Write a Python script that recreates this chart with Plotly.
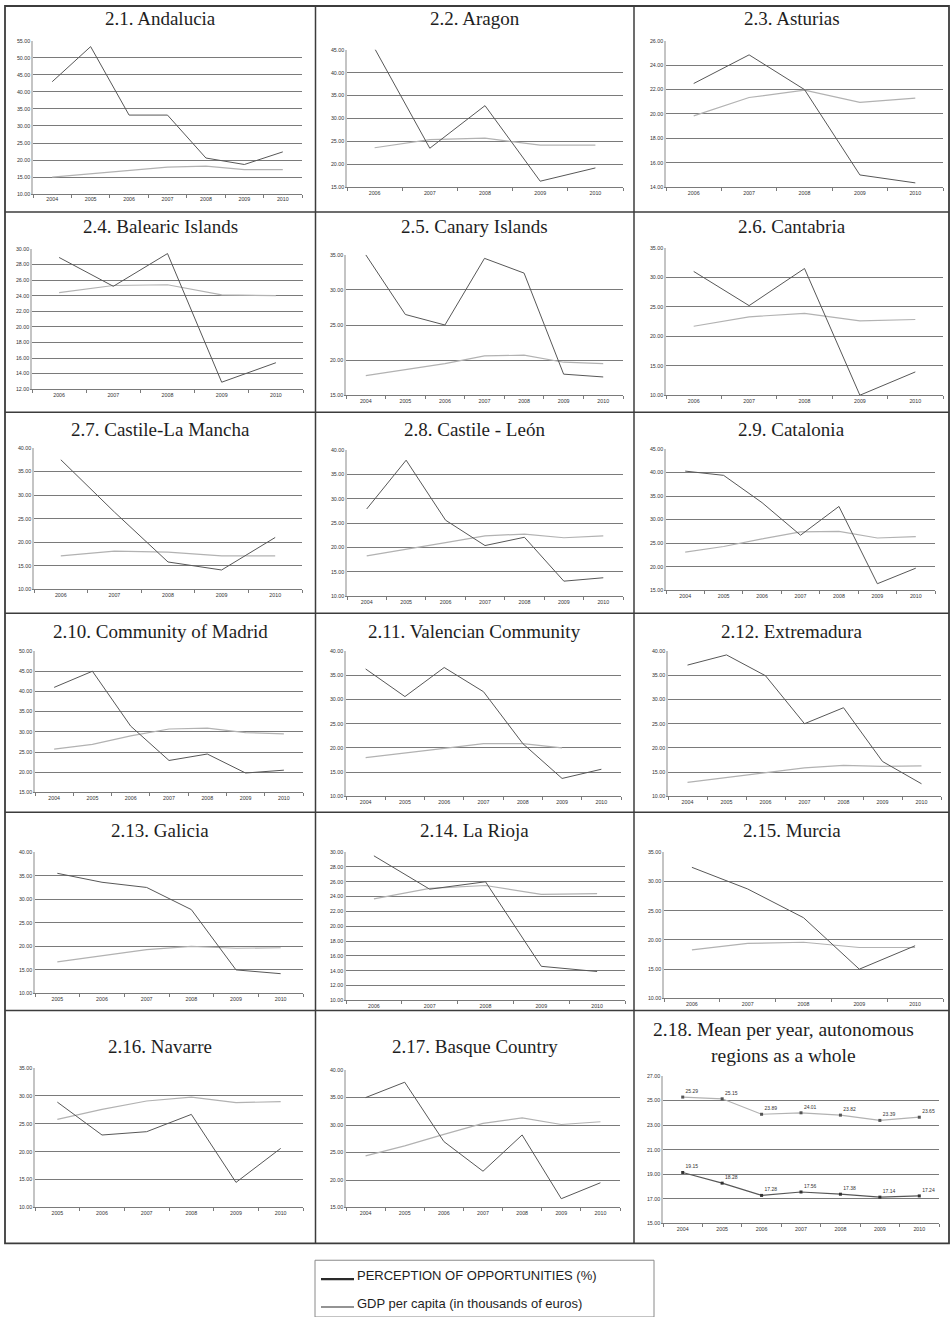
import plotly.graph_objects as go

W, H = 951, 1317

# ---------------- data ----------------
years_04 = ["2004", "2005", "2006", "2007", "2008", "2009", "2010"]
years_05 = ["2005", "2006", "2007", "2008", "2009", "2010"]
years_06 = ["2006", "2007", "2008", "2009", "2010"]

andalucia_perception = [43.0, 53.3, 33.2, 33.2, 20.6, 18.7, 22.4]
andalucia_gdp = [15.0, 16.0, 16.9, 17.9, 18.2, 17.2, 17.2]

aragon_perception = [45.3, 23.5, 32.8, 16.3, 19.2]
aragon_gdp = [23.6, 25.4, 25.7, 24.2, 24.2]

asturias_perception = [22.5, 24.85, 22.0, 15.0, 14.35]
asturias_gdp = [19.85, 21.35, 21.95, 20.95, 21.3]

balearic_perception = [28.9, 25.2, 29.4, 12.9, 15.4]
balearic_gdp = [24.4, 25.3, 25.4, 24.1, 24.0]

canary_perception = [35.0, 26.5, 25.0, 34.5, 32.4, 18.0, 17.6]
canary_gdp = [17.8, 18.7, 19.5, 20.6, 20.7, 19.7, 19.5]

cantabria_perception = [31.0, 25.2, 31.5, 10.0, 13.95]
cantabria_gdp = [21.7, 23.3, 23.9, 22.6, 22.85]

clm_perception = [37.5, 26.4, 15.8, 14.1, 21.0]
clm_gdp = [17.1, 18.1, 17.9, 17.1, 17.1]

cyl_perception = [27.9, 37.9, 25.6, 20.4, 22.1, 13.1, 13.8]
cyl_gdp = [18.3, 19.6, 21.0, 22.4, 22.75, 22.0, 22.4]

catalonia_perception = [40.3, 39.4, 33.6, 26.7, 32.8, 16.4, 19.7]
catalonia_gdp = [23.1, 24.3, 25.9, 27.4, 27.5, 26.1, 26.4]

madrid_perception = [41.0, 45.0, 31.4, 22.9, 24.5, 19.8, 20.5]
madrid_gdp = [25.7, 26.9, 29.0, 30.7, 30.9, 29.8, 29.5]

valencia_perception = [36.3, 30.6, 36.6, 31.6, 20.9, 13.7, 15.6]
valencia_gdp = [18.0, 18.9, 19.9, 20.9, 20.9, 20.0, None]

extremadura_perception = [37.1, 39.2, 34.9, 25.0, 28.3, 17.2, 12.6]
extremadura_gdp = [12.9, 13.9, 14.8, 15.9, 16.4, 16.2, 16.3]

galicia_perception = [35.5, 33.6, 32.5, 27.8, 15.0, 14.2]
galicia_gdp = [16.7, 18.0, 19.3, 20.0, 19.6, 19.7]

rioja_perception = [29.5, 25.0, 26.0, 14.6, 13.9]
rioja_gdp = [23.7, 25.1, 25.5, 24.3, 24.4]

murcia_perception = [32.4, 28.7, 23.8, 15.0, 19.0]
murcia_gdp = [18.3, 19.4, 19.6, 18.7, 18.7]

navarre_perception = [28.9, 23.0, 23.6, 26.7, 14.5, 20.6]
navarre_gdp = [25.8, 27.6, 29.1, 29.8, 28.8, 29.0]

basque_perception = [35.0, 37.8, 27.0, 21.6, 28.2, 16.6, 19.5]
basque_gdp = [24.4, 26.2, 28.3, 30.3, 31.3, 30.1, 30.6]

mean_upper = [25.29, 25.15, 23.89, 24.01, 23.82, 23.39, 23.65]
mean_lower = [19.15, 18.28, 17.28, 17.56, 17.38, 17.14, 17.24]

titles = ["2.1. Andalucia", "2.2. Aragon", "2.3. Asturias",
          "2.4. Balearic Islands", "2.5. Canary Islands", "2.6. Cantabria",
          "2.7. Castile-La Mancha", "2.8. Castile - León", "2.9. Catalonia",
          "2.10. Community of Madrid", "2.11. Valencian Community", "2.12. Extremadura",
          "2.13. Galicia", "2.14. La Rioja", "2.15. Murcia",
          "2.16. Navarre", "2.17. Basque Country"]
mean_title_lines = ["2.18. Mean per year, autonomous", "regions as a whole"]

legend_labels = ["PERCEPTION OF OPPORTUNITIES (%)", "GDP per capita (in thousands of euros)"]

# ---------------- panel configuration ----------------
series = [
    (years_04, andalucia_perception, andalucia_gdp),
    (years_06, aragon_perception, aragon_gdp),
    (years_06, asturias_perception, asturias_gdp),
    (years_06, balearic_perception, balearic_gdp),
    (years_04, canary_perception, canary_gdp),
    (years_06, cantabria_perception, cantabria_gdp),
    (years_06, clm_perception, clm_gdp),
    (years_04, cyl_perception, cyl_gdp),
    (years_04, catalonia_perception, catalonia_gdp),
    (years_04, madrid_perception, madrid_gdp),
    (years_04, valencia_perception, valencia_gdp),
    (years_04, extremadura_perception, extremadura_gdp),
    (years_05, galicia_perception, galicia_gdp),
    (years_06, rioja_perception, rioja_gdp),
    (years_06, murcia_perception, murcia_gdp),
    (years_05, navarre_perception, navarre_gdp),
    (years_04, basque_perception, basque_gdp),
    (years_04, mean_lower, mean_upper),
]

yranges = [(10, 55, 5), (15, 45, 5), (14, 26, 2),
           (12, 30, 2), (15, 35, 5), (10, 35, 5),
           (10, 40, 5), (10, 40, 5), (15, 45, 5),
           (15, 50, 5), (10, 40, 5), (10, 40, 5),
           (10, 40, 5), (10, 30, 2), (10, 35, 5),
           (10, 35, 5), (15, 40, 5), (15, 27, 2)]

# plot boxes in pixels: x0, x1, y0(top), y1(bottom)
boxes = [(33, 302, 38, 192), (347, 623, 47, 185), (666, 943, 38, 185),
         (32, 303, 247, 388), (346, 623, 253, 394), (666, 943, 246, 394),
         (34, 302, 447, 589), (347, 623, 449, 596), (666, 935, 448, 590),
         (35, 303, 651, 793), (346, 621, 651, 797), (668, 941, 651, 797),
         (35, 303, 853, 995), (346, 625, 853, 1002), (664, 943, 853, 1000),
         (35, 303, 1070, 1210), (346, 620, 1072, 1210), (663, 939, 1078, 1226)]

col_edges = [5, 315.5, 634, 949]
row_edges = [3, 210, 411, 613, 813, 1012, 1246]
title_y = [16, 225, 428, 631, 831, 1048]

PERC_COLOR = "#575757"
GDP_COLOR = "#b2b2b2"
GRID_COLOR = "#7a7a7a"
TICK_FONT = dict(family="Liberation Sans, Arial", size=5.3, color="#333333")

fig = go.Figure()
layout_axes = {}

for i, ((yrs, perc, gdp), (ymin, ymax, dt), (x0, x1, y0, y1)) in enumerate(zip(series, yranges, boxes), start=1):
    xa = "x" if i == 1 else f"x{i}"
    ya = "y" if i == 1 else f"y{i}"
    is_mean = (i == 18)
    if is_mean:
        fig.add_trace(go.Scatter(
            x=yrs, y=gdp, xaxis=xa, yaxis=ya, mode="lines+markers+text",
            line=dict(color=GDP_COLOR, width=1.2),
            marker=dict(symbol="square", size=3, color="#555555"),
            text=[f"{v:.2f}" for v in gdp], textposition="top right",
            textfont=dict(family="Liberation Sans, Arial", size=5, color="#333333"),
            showlegend=False, cliponaxis=False))
        fig.add_trace(go.Scatter(
            x=yrs, y=perc, xaxis=xa, yaxis=ya, mode="lines+markers+text",
            line=dict(color=PERC_COLOR, width=1.2),
            marker=dict(symbol="square", size=3, color="#333333"),
            text=[f"{v:.2f}" for v in perc], textposition="top right",
            textfont=dict(family="Liberation Sans, Arial", size=5, color="#333333"),
            showlegend=False, cliponaxis=False))
    else:
        fig.add_trace(go.Scatter(
            x=yrs, y=gdp, xaxis=xa, yaxis=ya, mode="lines",
            line=dict(color=GDP_COLOR, width=1.2), showlegend=False,
            connectgaps=False))
        fig.add_trace(go.Scatter(
            x=yrs, y=perc, xaxis=xa, yaxis=ya, mode="lines",
            line=dict(color=PERC_COLOR, width=1.0), showlegend=False))

    xkey = "xaxis" if i == 1 else f"xaxis{i}"
    ykey = "yaxis" if i == 1 else f"yaxis{i}"
    layout_axes[xkey] = dict(
        domain=[x0 / W, x1 / W], anchor=ya, type="category",
        categoryorder="array", categoryarray=yrs,
        range=[-0.5, len(yrs) - 0.5], autorange=False,
        tickson="boundaries", ticks="outside", ticklen=3, tickcolor=GRID_COLOR,
        showline=True, linecolor=GRID_COLOR, linewidth=1,
        showgrid=False, zeroline=False, tickfont=TICK_FONT, fixedrange=True)
    layout_axes[ykey] = dict(
        domain=[1 - y1 / H, 1 - y0 / H], anchor=xa,
        range=[ymin, ymax], autorange=False, tick0=ymin, dtick=dt, tickformat=".2f",
        showgrid=True, gridcolor=GRID_COLOR, gridwidth=1,
        showline=True, linecolor="#c4c4c4", linewidth=1.5,
        ticks="", zeroline=False, tickfont=TICK_FONT, fixedrange=True)

# ---------------- frame, titles, legend ----------------
shapes = []
BORDER = "#3c3c3c"
shapes.append(dict(type="rect", xref="paper", yref="paper",
                   x0=col_edges[0] / W, x1=col_edges[-1] / W,
                   y0=1 - row_edges[-1] / H, y1=1 - row_edges[0] / H,
                   line=dict(color=BORDER, width=1.8)))
for cx in col_edges[1:-1]:
    shapes.append(dict(type="line", xref="paper", yref="paper",
                       x0=cx / W, x1=cx / W, y0=1 - row_edges[-1] / H, y1=1 - row_edges[0] / H,
                       line=dict(color=BORDER, width=1.5)))
for ry in row_edges[1:-1]:
    shapes.append(dict(type="line", xref="paper", yref="paper",
                       x0=col_edges[0] / W, x1=col_edges[-1] / W, y0=1 - ry / H, y1=1 - ry / H,
                       line=dict(color=BORDER, width=1.5)))

annotations = []
TITLE_FONT = dict(family="Liberation Serif, Times New Roman, serif", size=19, color="#1e1e1e")
for k, t in enumerate(titles):
    r, c = divmod(k, 3)
    cx = (col_edges[c] + col_edges[c + 1]) / 2
    annotations.append(dict(text=t, xref="paper", yref="paper", x=cx / W, y=1 - title_y[r] / H,
                            xanchor="center", yanchor="middle", showarrow=False, font=TITLE_FONT))
for line_txt, ly in zip(mean_title_lines, [1031, 1057]):
    annotations.append(dict(text=line_txt, xref="paper", yref="paper", x=783 / W, y=1 - ly / H,
                            xanchor="center", yanchor="middle", showarrow=False,
                            font=dict(family="Liberation Serif, Times New Roman, serif", size=19.5,
                                      color="#1e1e1e")))

# legend box
shapes.append(dict(type="rect", xref="paper", yref="paper",
                   x0=315 / W, x1=654 / W, y0=1 - 1320 / H, y1=1 - 1263 / H,
                   line=dict(color="#8a8a8a", width=1)))
legend_styles = [(2.2, 1282, "#2a2a2a"), (1.6, 1310, "#6f6f6f")]
for lab, (lw, ly, sample_col) in zip(legend_labels, legend_styles):
    shapes.append(dict(type="line", xref="paper", yref="paper",
                       x0=321 / W, x1=354 / W, y0=1 - ly / H, y1=1 - ly / H,
                       line=dict(color=sample_col, width=lw)))
    annotations.append(dict(text=lab, xref="paper", yref="paper", x=355 / W, y=1 - (ly - 3.5) / H,
                            xanchor="left", yanchor="middle", showarrow=False,
                            font=dict(family="Liberation Sans, Arial", size=13, color="#1e1e1e")))

fig.update_layout(
    width=W, height=H, autosize=False,
    margin=dict(l=0, r=0, t=0, b=0),
    paper_bgcolor="white", plot_bgcolor="white",
    showlegend=False, shapes=shapes, annotations=annotations,
    **layout_axes)

fig.write_html("out.html", config={"displayModeBar": False},
               post_script="document.body.style.margin='0px';document.body.style.padding='0px';"
                           "document.body.style.overflow='hidden';")
